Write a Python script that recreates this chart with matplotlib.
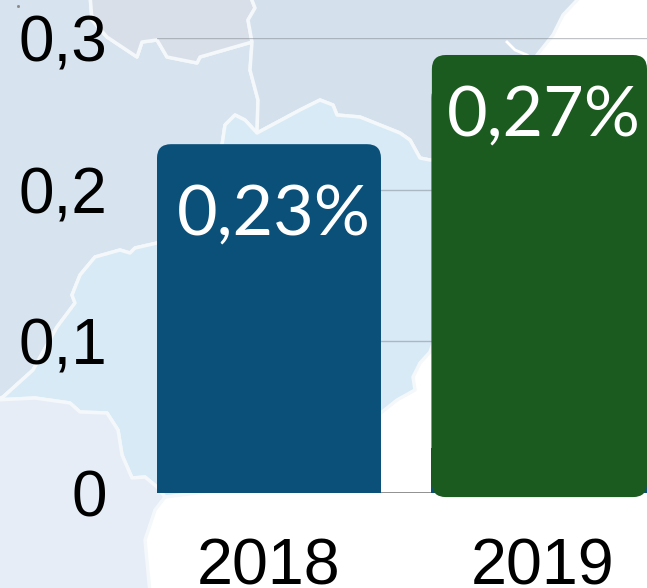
import matplotlib
matplotlib.use('Agg')
import matplotlib.pyplot as plt
from matplotlib.patches import FancyBboxPatch, Polygon

# data
years = ['2018', '2019']
values = [0.23, 0.27]
value_labels = ['0,23%', '0,27%']
y_ticks = [0, 0.1, 0.2, 0.3]
y_tick_labels = ['0', '0,1', '0,2', '0,3']

BLUE = '#0a5079'
GREEN = '#1c5b20'

# background map outlines, in image pixels (they run a little past the image edge)
grey_land = [(90, -5), (92, 20), (107, 37), (137, 57), (142, 42), (157, 40), (167, 57), (197, 63),
             (200, 57), (252, 42), (248, 20), (255, 8), (250, -5)]
left_land = [(-5, -5), (90, -5), (92, 20), (107, 37), (137, 57), (142, 42), (157, 40), (167, 57), (197, 63),
             (200, 57), (252, 42), (250, 70), (258, 100), (257, 133), (245, 120), (235, 115), (225, 125),
             (222, 145), (222, 243), (157, 243), (135, 248), (130, 253), (120, 250), (95, 257), (80, 275),
             (72, 295), (75, 303), (57, 327), (33, 370), (3, 397), (-5, 402)]
right_land = [(252, 42), (248, 20), (255, 8), (250, -5), (582, -5), (563, 15), (553, 35), (537, 55), (500, 160),
              (430, 160), (420, 158), (410, 140), (400, 133), (360, 117), (337, 115), (333, 105), (320, 100),
              (300, 110), (257, 133), (258, 100), (250, 70)]
middle_land = [(222, 145), (225, 125), (235, 115), (245, 120), (257, 133), (300, 110), (320, 100), (333, 105),
               (337, 115), (360, 117), (400, 133), (410, 140), (420, 158), (430, 160), (500, 160), (430, 352),
               (420, 363), (413, 377), (415, 390), (397, 400), (382, 412), (300, 480), (165, 497), (157, 487),
               (145, 477), (132, 478), (122, 455), (118, 430), (107, 413), (80, 412), (70, 403), (35, 398),
               (-5, 400), (3, 397), (33, 370), (57, 327), (75, 303), (72, 295), (80, 275), (95, 257), (120, 250),
               (130, 253), (135, 248), (157, 243), (222, 243)]
lower_land = [(-5, 400), (35, 398), (70, 403), (80, 412), (107, 413), (118, 430), (122, 455), (132, 478), (145, 477),
              (157, 487), (165, 497), (155, 510), (145, 540), (150, 593), (-5, 593)]

plt.rcParams['font.family'] = ['Liberation Sans', 'DejaVu Sans']

W, H = 647, 588
fig = plt.figure(figsize=(W / 100, H / 100), dpi=100, facecolor='white')

bg = fig.add_axes([0, 0, 1, 1], zorder=0)
bg.set_xlim(0, W)
bg.set_ylim(H, 0)
bg.axis('off')
for pts, col in [(left_land, '#d7e3ef'), (grey_land, '#d9dfe8'), (right_land, '#d4e0ec'),
                 (middle_land, '#d8eaf6'), (lower_land, '#e6edf7')]:
    bg.add_patch(Polygon(pts, closed=True, facecolor=col, edgecolor='#f4f8fb', lw=2.5, joinstyle='round'))
bg.plot([507, 515, 527], [42, 50, 55], color='white', lw=2)
bg.plot([18], [6], marker='s', ms=1, color='#888888')

# axes run from the left end of the grid lines to the right image edge
x0, x1 = 157, 647
y0, y3 = 493, 38
step = 274
ax = fig.add_axes([x0 / W, (H - y0) / H, (x1 - x0) / W, (y0 - y3) / H], zorder=1)
ax.patch.set_visible(False)
ax.set_xlim((x0 - 269) / step, (x1 - 269) / step)
ax.set_ylim(0, 0.3)
for s in ax.spines.values():
    s.set_visible(False)

ax.set_yticks(y_ticks, y_tick_labels)
ax.set_xticks(range(len(years)), years)
ax.tick_params(axis='y', length=0, pad=36, labelsize=46)
ax.tick_params(axis='x', length=0, pad=32, labelsize=46.5)
ax.grid(axis='y', color='#808890', alpha=0.5, lw=1)
ax.axhline(0, color='#808080', lw=1.2, zorder=2)
ax.set_axisbelow(True)

asp = step / ((y0 - y3) / 0.3)
style = 'round,pad=0,rounding_size=%f' % (14 / step)

# 2018 bar and the blue 2019 bar that sits behind the green one
lefts = [-0.4088, 0.593]
widths = [0.8175, 0.8175]
for left, width, val in zip(lefts, widths, values):
    ax.add_patch(FancyBboxPatch((left, -0.02), width, val + 0.02, boxstyle=style, mutation_aspect=asp,
                                facecolor=BLUE, edgecolor='none', zorder=3))
# square off the foot of the blue bars
ax.bar([left + w / 2 for left, w in zip(lefts, widths)], [0.03, 0.03], widths, color=BLUE, zorder=3)

# green bar is taller than its value in the picture
green = FancyBboxPatch((0.5945, -0.0027), 0.7851, 0.2915, boxstyle=style, mutation_aspect=asp,
                       facecolor=GREEN, edgecolor='none', zorder=4, clip_on=False)
ax.add_patch(green)

ax.text(lefts[0] + widths[0] / 2 + 0.018, 0.1701, value_labels[0], color='white', ha='center', va='baseline',
        fontsize=50.5, family='Lato', zorder=5)
ax.text(1.003, 0.2355, value_labels[1], color='white', ha='center', va='baseline',
        fontsize=50.5, family='Lato', zorder=5)

fig.savefig('out.png', dpi=100)
